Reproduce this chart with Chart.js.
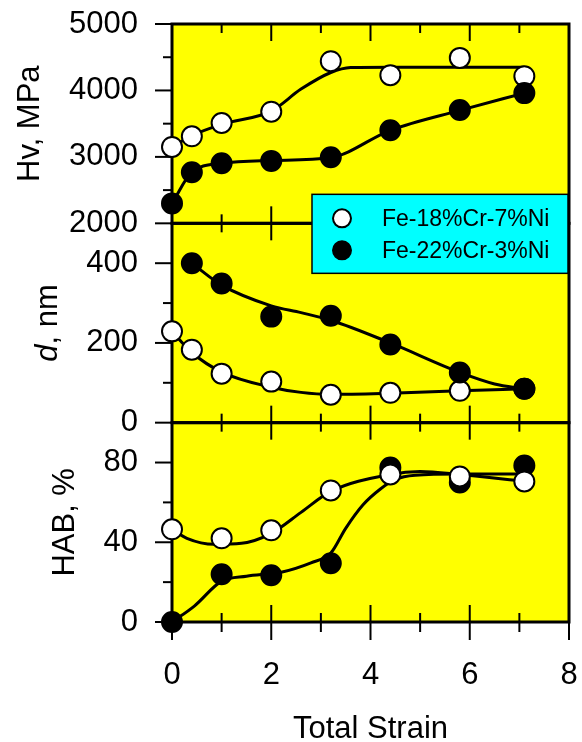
<!DOCTYPE html>
<html>
<head>
<meta charset="utf-8">
<script src="https://cdn.jsdelivr.net/npm/chart.js@4.4.1/dist/chart.umd.min.js"></script>
<style>
    html, body { margin: 0; padding: 0; background: #fff; }
    #wrap { width: 582px; height: 742px; }
</style>
</head>
<body>
<div id="wrap"><canvas id="chart" width="582" height="742"></canvas></div>
<script>
// values
var alloys = ['Fe-18%Cr-7%Ni', 'Fe-22%Cr-3%Ni'];

var strain = [0, 0.4, 1, 2, 3.2, 4.4, 5.8, 7.1];
var hv18 = [3150, 3310, 3510, 3680, 4440, 4230, 4490, 4215];
var hv22 = [2300, 2770, 2905, 2940, 2995, 3400, 3705, 3960];

var d18 = [229, 183, 123, 103, 70, 75, 80, 85];
var strainD22 = [0.4, 1, 2, 3.2, 4.4, 5.8, 7.1];
var d22 = [400, 349, 266, 268, 196, 126, 85];

var strainHab = [0, 1, 2, 3.2, 4.4, 5.8, 7.1];
var hab18 = [46.5, 42, 46, 66, 74, 73, 70.5];
var hab22 = [0, 24, 23.5, 29.5, 77.5, 70, 78.5];

// hand drawn fit curves (strain, value)
var fitHv18 = [[0, 3150], [0.4, 3320], [1, 3490], [2, 3690], [2.6, 4020], [3.2, 4270], [3.6, 4345], [4.4, 4350], [7.1, 4350]];
var fitHv22 = [[0, 2300], [0.4, 2770], [1, 2900], [2, 2945], [3.2, 2990], [4.4, 3400], [5.8, 3700], [7.1, 3960]];
var fitD18 = [[0, 229], [0.4, 176], [1, 127], [2, 89], [2.6, 76], [3.2, 71], [4.4, 74], [5.8, 80], [7.1, 85]];
var fitD22 = [[0.4, 400], [1, 345], [2, 293], [2.6, 276], [3.2, 257], [4.4, 200], [5.8, 126], [6.5, 97], [7.1, 85]];
var fitHab18 = [[0, 46.5], [0.3, 42], [0.85, 39], [1.4, 39.5], [2, 44.5], [2.6, 55], [3.2, 65.5], [4.4, 74], [5, 75.5], [5.8, 74], [7.1, 70.6]];
var fitHab22 = [[0, 0], [0.45, 8], [1, 20.5], [1.5, 23], [2.2, 25], [2.8, 29.7], [3.2, 34.6], [3.5, 47], [3.85, 58.8], [4.2, 66.7], [4.5, 71.5], [4.9, 73.6], [5.8, 74.2], [7.1, 74.2]];

// ticks
var xTicks = [0, 2, 4, 6, 8];
var xMinor = [1, 3, 5, 7];
var hvTicks = [2000, 3000, 4000, 5000];
var hvMinor = [2500, 3500, 4500];
var dTicks = [0, 200, 400];
var dMinor = [100, 300];
var habTicks = [0, 40, 80];
var habMinor = [20, 60];

var FONT = '"Liberation Sans", Arial, sans-serif';

function xy(xs, ys) {
    return xs.map(function (x, i) { return { x: x, y: ys[i] }; });
}

function markers(label, xs, ys, axis, filled, order) {
    return {
        label: label,
        data: xy(xs, ys),
        yAxisID: axis,
        showLine: false,
        pointRadius: 10,
        pointBorderWidth: 2,
        pointBorderColor: '#000',
        pointBackgroundColor: filled ? '#000' : '#fff',
        clip: false,
        order: order
    };
}

function curve(pairs, axis) {
    return {
        data: pairs.map(function (p) { return { x: p[0], y: p[1] }; }),
        yAxisID: axis,
        borderColor: '#000',
        borderWidth: 3,
        pointRadius: 0,
        cubicInterpolationMode: 'monotone',
        fill: false,
        order: 10
    };
}

// tick label padding would otherwise shrink the plot area
function noPadding(axis) {
    axis.paddingTop = 0;
    axis.paddingBottom = 0;
    axis.paddingLeft = 0;
    axis.paddingRight = 0;
}

function yScale(min, max, ticks, title, titlePad) {
    return {
        type: 'linear',
        position: 'left',
        stack: 'panels',
        stackWeight: 1,
        min: min,
        max: max,
        afterBuildTicks: function (axis) {
            axis.ticks = ticks.map(function (v) { return { value: v }; });
        },
        afterFit: function (axis) {
            axis.width = 172;
            noPadding(axis);
        },
        grid: { display: false, drawTicks: false },
        border: { display: false },
        ticks: {
            color: '#000',
            padding: 34,
            autoSkip: false,
            font: { family: FONT, size: 31 },
            callback: function (v) { return String(v); }
        },
        title: {
            display: title !== '',
            text: title,
            color: '#000',
            padding: { top: titlePad, bottom: 0 },
            font: { family: FONT, size: 31 }
        }
    };
}

var panelPlugin = {
    id: 'panels',
    beforeDraw: function (chart) {
        var ctx = chart.ctx, area = chart.chartArea;
        ctx.save();
        ctx.fillStyle = '#ffff00';
        ['yHv', 'yD', 'yHab'].forEach(function (id) {
            var s = chart.scales[id];
            ctx.fillRect(area.left, s.top, area.right - area.left, s.bottom - s.top);
        });
        ctx.restore();
    },
    beforeDatasetsDraw: function (chart) {
        var ctx = chart.ctx, area = chart.chartArea, xs = chart.scales.x;
        var panels = [
            { s: chart.scales.yHv, major: hvTicks, minor: hvMinor },
            { s: chart.scales.yD, major: dTicks, minor: dMinor },
            { s: chart.scales.yHab, major: habTicks, minor: habMinor }
        ];
        function seg(x1, y1, x2, y2) {
            ctx.beginPath();
            ctx.moveTo(x1, y1);
            ctx.lineTo(x2, y2);
            ctx.stroke();
        }
        ctx.save();
        ctx.strokeStyle = '#000';
        ctx.lineWidth = 2;
        panels.forEach(function (p, i) {
            var s = p.s;
            xTicks.concat(xMinor).forEach(function (v) {
                var len = xTicks.indexOf(v) >= 0 ? 17 : 9;
                var px = xs.getPixelForValue(v);
                seg(px, s.top, px, s.top + len);
                seg(px, s.bottom, px, s.bottom - len);
                if (i === panels.length - 1) seg(px, s.bottom, px, s.bottom + len + 1);
            });
            p.major.concat(p.minor).forEach(function (v) {
                var len = p.major.indexOf(v) >= 0 ? 17 : 9;
                var py = s.getPixelForValue(v);
                seg(area.left - len, py, area.left, py);
            });
        });
        ctx.lineWidth = 3;
        panels.forEach(function (p) {
            ctx.strokeRect(area.left, p.s.top, area.right - area.left, p.s.bottom - p.s.top);
        });
        ctx.restore();
    },
    afterDraw: function (chart) {
        var ctx = chart.ctx, area = chart.chartArea;
        var sd = chart.scales.yD;

        // "d, nm" title with italic d
        ctx.save();
        ctx.translate(48, (sd.top + sd.bottom) / 2);
        ctx.rotate(-Math.PI / 2);
        ctx.fillStyle = '#000';
        ctx.textBaseline = 'middle';
        var fItal = 'italic 31px ' + FONT, fNorm = '31px ' + FONT;
        ctx.font = fItal;
        var w1 = ctx.measureText('d').width;
        ctx.font = fNorm;
        var w2 = ctx.measureText(', nm').width;
        var x0 = -(w1 + w2) / 2;
        ctx.font = fItal;
        ctx.fillText('d', x0, 0);
        ctx.font = fNorm;
        ctx.fillText(', nm', x0 + w1, 0);
        ctx.restore();

        // legend box
        var sh = chart.scales.yHv;
        var bw = 256, bh = 79;
        var bx = area.right - bw - 1, by = sh.bottom - 29;
        ctx.save();
        ctx.fillStyle = '#00ffff';
        ctx.fillRect(bx, by, bw, bh);
        ctx.strokeStyle = '#000';
        ctx.lineWidth = 1.5;
        ctx.strokeRect(bx, by, bw, bh);
        ctx.font = '23px ' + FONT;
        ctx.textBaseline = 'middle';
        alloys.forEach(function (name, i) {
            var cy = by + 24 + i * 32;
            ctx.beginPath();
            ctx.arc(bx + 30, cy, 9, 0, Math.PI * 2);
            ctx.fillStyle = i === 0 ? '#fff' : '#000';
            ctx.fill();
            ctx.lineWidth = 2;
            ctx.stroke();
            ctx.fillStyle = '#000';
            ctx.fillText(name, bx + 70, cy + 1);
        });
        ctx.restore();
    }
};

var ctx = document.getElementById('chart').getContext('2d');
var myChart = new Chart(ctx, {
    type: 'line',
    data: {
        datasets: [
            markers(alloys[1], strain, hv22, 'yHv', true, 0),
            markers(alloys[0], strain, hv18, 'yHv', false, 1),
            markers(alloys[1], strainD22, d22, 'yD', true, 0),
            markers(alloys[0], strain, d18, 'yD', false, 1),
            markers(alloys[0], strainHab, hab18, 'yHab', false, 0),
            markers(alloys[1], strainHab, hab22, 'yHab', true, 1),
            curve(fitHv18, 'yHv'),
            curve(fitHv22, 'yHv'),
            curve(fitD18, 'yD'),
            curve(fitD22, 'yD'),
            curve(fitHab18, 'yHab'),
            curve(fitHab22, 'yHab')
        ]
    },
    options: {
        responsive: false,
        animation: false,
        events: [],
        layout: { autoPadding: false, padding: { top: 24, right: 13, left: 0, bottom: 0 } },
        scales: {
            x: {
                type: 'linear',
                position: 'bottom',
                min: 0,
                max: 8,
                afterBuildTicks: function (axis) {
                    axis.ticks = xTicks.map(function (v) { return { value: v }; });
                },
                afterFit: function (axis) {
                    axis.height = 120;
                    noPadding(axis);
                },
                grid: { display: false, drawTicks: false },
                border: { display: false },
                ticks: {
                    color: '#000',
                    padding: 35,
                    autoSkip: false,
                    maxRotation: 0,
                    font: { family: FONT, size: 31 }
                },
                title: {
                    display: true,
                    text: 'Total Strain',
                    color: '#000',
                    padding: { top: 0, bottom: 0 },
                    font: { family: FONT, size: 31, lineHeight: 0.8 }
                }
            },
            yHab: yScale(0, 100, habTicks, 'HAB, %', 47),
            yD: yScale(0, 500, dTicks, '', 0),
            yHv: yScale(2000, 5000, hvTicks, 'Hv, MPa', 12)
        },
        plugins: {
            legend: { display: false },
            tooltip: { enabled: false }
        }
    },
    plugins: [panelPlugin]
});
</script>
</body>
</html>
